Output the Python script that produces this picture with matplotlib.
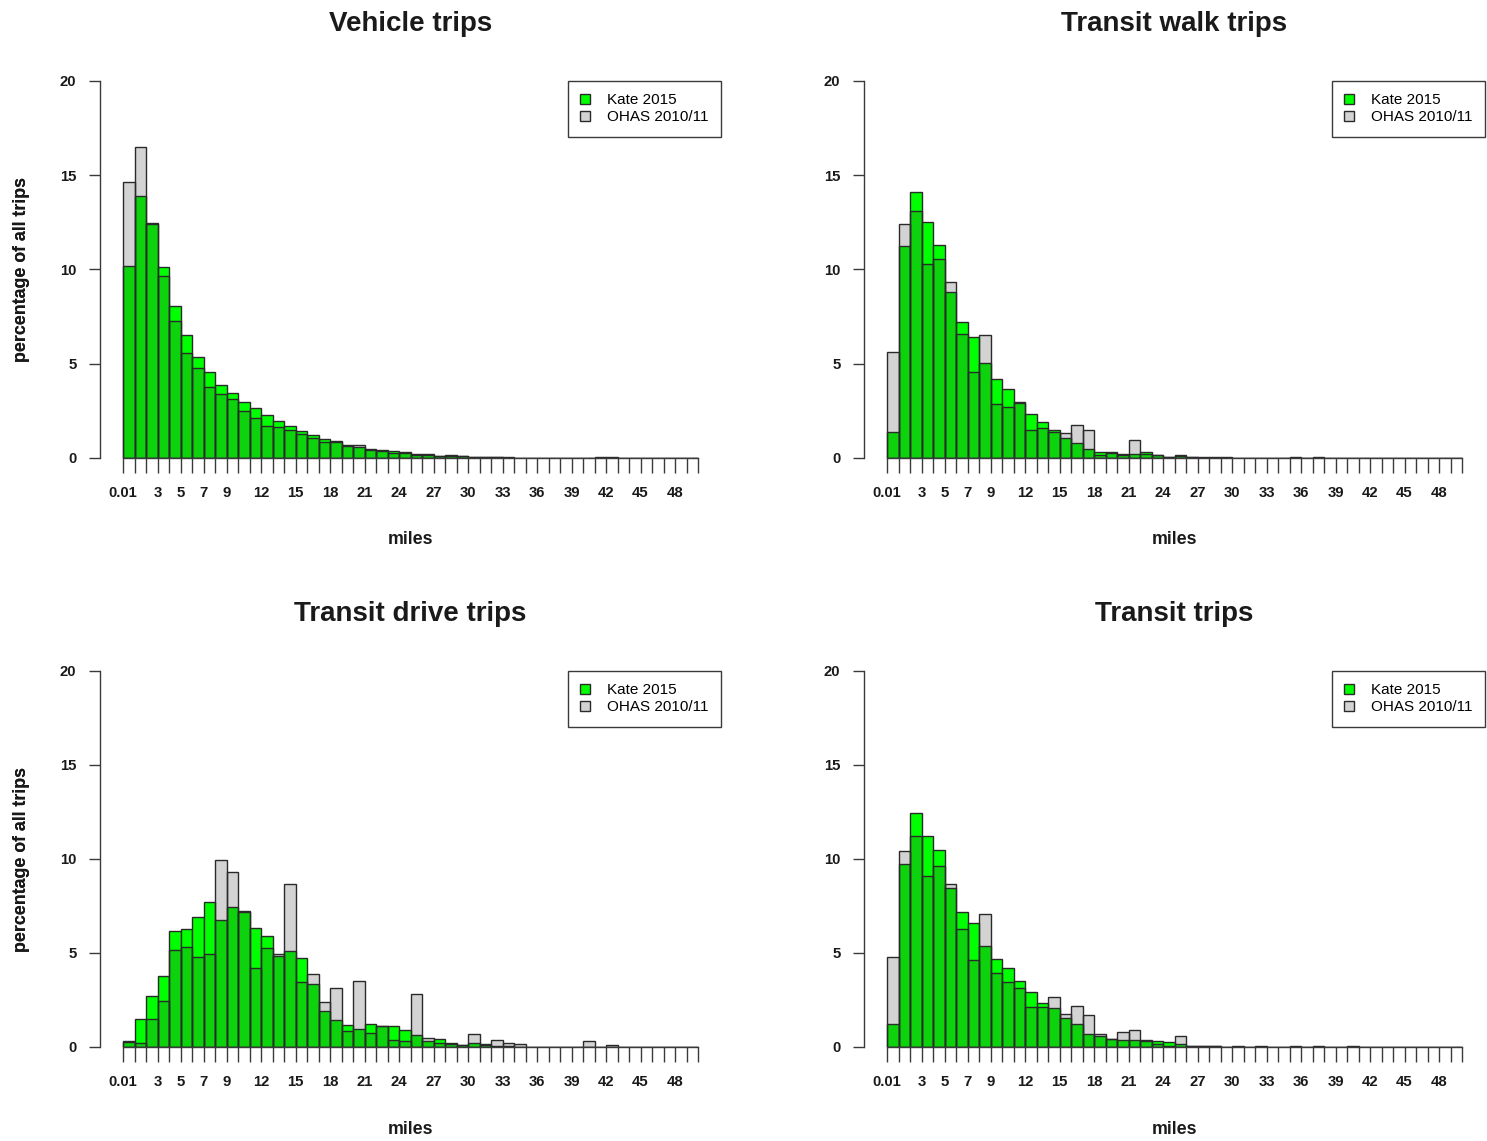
import numpy as np
import matplotlib
matplotlib.use("Agg")
import matplotlib.pyplot as plt

plt.rcParams["font.family"] = ["Liberation Sans", "DejaVu Sans"]

# Distance bins: breaks at 0.01, 1, 2, ..., 50 miles (50 bins)
breaks = ["0.01"] + [str(i) for i in range(1, 51)]
shown_labels = ["0.01", "3", "5", "7", "9", "12", "15", "18", "21", "24",
                "27", "30", "33", "36", "39", "42", "45", "48"]

series_names = ["Kate 2015", "OHAS 2010/11"]

# Percentage of all trips per distance bin
vehicle_kate = [10.19, 13.9, 12.45, 10.15, 8.08, 6.54, 5.38, 4.58, 3.89, 3.47,
                2.95, 2.63, 2.28, 1.96, 1.71, 1.44, 1.2, 1.01, 0.86, 0.67,
                0.57, 0.45, 0.42, 0.37, 0.34, 0.19, 0.19, 0.12, 0.1, 0.09,
                0.07, 0.07, 0.03, 0.03, 0.02, 0.02, 0.02, 0.02, 0.01, 0.0,
                0.01, 0.02, 0.02, 0.01, 0.01, 0.01, 0.01, 0.01, 0.01, 0.01]
vehicle_ohas = [14.63, 16.5, 12.4, 9.65, 7.25, 5.59, 4.77, 3.77, 3.38, 3.13,
                2.51, 2.10, 1.72, 1.63, 1.51, 1.28, 1.04, 0.87, 0.88, 0.64,
                0.71, 0.5, 0.37, 0.25, 0.25, 0.16, 0.16, 0.1, 0.16, 0.08,
                0.06, 0.05, 0.03, 0.02, 0.02, 0.02, 0.02, 0.02, 0.01, 0.0,
                0.02, 0.05, 0.05, 0.01, 0.01, 0.01, 0.01, 0.01, 0.01, 0.01]

walk_kate = [1.40, 11.25, 14.09, 12.54, 11.32, 8.82, 7.21, 6.44, 5.02, 4.17,
             3.68, 2.92, 2.35, 1.89, 1.49, 1.08, 0.81, 0.46, 0.34, 0.30,
             0.20, 0.19, 0.30, 0.14, 0.06, 0.10, 0.03, 0.02, 0.02, 0.02,
             0.01, 0.01, 0.01, 0.01, 0.01, 0.01, 0.01, 0.01, 0.0, 0.0,
             0.0, 0.0, 0.0, 0.0, 0.0, 0.0, 0.0, 0.0, 0.0, 0.0]
walk_ohas = [5.64, 12.43, 13.09, 10.31, 10.54, 9.32, 6.58, 4.56, 6.51, 2.86,
             2.69, 2.95, 1.49, 1.61, 1.40, 1.33, 1.75, 1.49, 0.17, 0.24,
             0.16, 0.95, 0.22, 0.16, 0.07, 0.16, 0.04, 0.03, 0.03, 0.03,
             0.02, 0.01, 0.01, 0.01, 0.01, 0.05, 0.01, 0.05, 0.0, 0.0,
             0.0, 0.0, 0.0, 0.0, 0.0, 0.0, 0.0, 0.0, 0.0, 0.0]

drive_kate = [0.30, 1.51, 2.70, 3.76, 6.19, 6.28, 6.93, 7.73, 6.74, 7.45,
              7.20, 6.33, 5.89, 4.85, 5.11, 4.75, 3.37, 1.92, 1.46, 1.15,
              0.98, 1.21, 1.10, 1.12, 0.92, 0.66, 0.30, 0.45, 0.21, 0.09,
              0.19, 0.14, 0.05, 0.03, 0.02, 0.0, 0.0, 0.0, 0.0, 0.0,
              0.0, 0.0, 0.0, 0.0, 0.0, 0.0, 0.0, 0.0, 0.0, 0.0]
drive_ohas = [0.25, 0.21, 1.51, 2.45, 5.18, 5.32, 4.77, 4.97, 9.97, 9.29,
              7.25, 4.19, 5.25, 4.97, 8.69, 3.48, 3.90, 2.39, 3.16, 0.85,
              3.49, 0.75, 1.12, 0.36, 0.32, 2.80, 0.48, 0.19, 0.16, 0.09,
              0.68, 0.10, 0.39, 0.21, 0.14, 0.0, 0.0, 0.0, 0.0, 0.0,
              0.32, 0.0, 0.12, 0.0, 0.0, 0.0, 0.0, 0.0, 0.0, 0.0]

transit_kate = [1.24, 9.75, 12.45, 11.22, 10.50, 8.48, 7.20, 6.58, 5.39, 4.70,
                4.22, 3.49, 2.95, 2.34, 2.06, 1.56, 1.21, 0.71, 0.57, 0.45,
                0.36, 0.36, 0.33, 0.30, 0.27, 0.18, 0.04, 0.04, 0.03, 0.01,
                0.02, 0.01, 0.01, 0.01, 0.01, 0.01, 0.01, 0.01, 0.0, 0.0,
                0.0, 0.0, 0.0, 0.0, 0.0, 0.0, 0.0, 0.0, 0.0, 0.0]
transit_ohas = [4.79, 10.43, 11.22, 9.08, 9.61, 8.65, 6.30, 4.63, 7.06, 3.96,
                3.46, 3.14, 2.13, 2.13, 2.66, 1.78, 2.16, 1.69, 0.68, 0.40,
                0.78, 0.92, 0.36, 0.18, 0.05, 0.59, 0.04, 0.04, 0.04, 0.02,
                0.04, 0.01, 0.04, 0.02, 0.01, 0.03, 0.01, 0.03, 0.0, 0.0,
                0.03, 0.0, 0.0, 0.0, 0.0, 0.0, 0.0, 0.0, 0.0, 0.0]

panels = [
    ("Vehicle trips", vehicle_kate, vehicle_ohas),
    ("Transit walk trips", walk_kate, walk_ohas),
    ("Transit drive trips", drive_kate, drive_ohas),
    ("Transit trips", transit_kate, transit_ohas),
]

W, H = 1487, 1141
fig = plt.figure(figsize=(W / 100, H / 100), dpi=100)

# axes boxes in pixels: (left, top, right, bottom)
boxes = [(100, 81, 721, 458), (864, 81, 1485, 458),
         (100, 671, 721, 1047), (864, 671, 1485, 1047)]

GREEN = "#00FF00"
GREY = (0.216, 0.216, 0.216, 0.22)
EDGE = "#2a2a2a"
AXC = "#3a3a3a"
TICK_FS = 10.7
LAB_FS = 12.8

for (title, kate, ohas), (l, t, r, b) in zip(panels, boxes):
    ax = fig.add_axes([l / W, 1 - b / H, (r - l) / W, (b - t) / H])
    x = np.arange(len(kate))
    h1 = ax.bar(x, kate, width=1.0, align="edge", facecolor=GREEN,
                edgecolor=EDGE, linewidth=1.0, label=series_names[0])
    h2 = ax.bar(x, ohas, width=1.0, align="edge", facecolor=GREY,
                edgecolor=EDGE, linewidth=1.0, label=series_names[1])

    ax.set_xlim(-2, 52)
    ax.set_ylim(0, 20)

    for s in ("top", "right"):
        ax.spines[s].set_visible(False)
    ax.spines["left"].set_color(AXC)
    ax.spines["left"].set_linewidth(1.0)
    ax.spines["bottom"].set_color(AXC)
    ax.spines["bottom"].set_linewidth(1.0)
    ax.spines["bottom"].set_bounds(0, len(kate))

    ticks = np.arange(len(breaks))
    ax.set_xticks(ticks)
    ax.set_xticklabels([lab if lab in shown_labels else "" for lab in breaks])
    ax.tick_params(axis="x", length=11, width=1.0, color=AXC,
                   pad=9, labelsize=TICK_FS)
    ax.set_yticks([0, 5, 10, 15, 20])
    ax.tick_params(axis="y", length=8, width=1.0, color=AXC,
                   pad=9, labelsize=TICK_FS)
    for lab in ax.get_xticklabels() + ax.get_yticklabels():
        lab.set_fontweight("bold")
        lab.set_color("#1a1a1a")

    ax.set_ylabel("percentage of all trips", fontsize=LAB_FS,
                  fontweight="bold", color="#1a1a1a")
    ax.yaxis.set_label_coords((22 - l) / (r - l), 0.5)
    ax.yaxis.label.set_va("center")
    ax.set_xlabel("miles", fontsize=LAB_FS, fontweight="bold",
                  color="#1a1a1a")
    ax.xaxis.set_label_coords(0.5, -82 / (b - t))
    ax.xaxis.label.set_va("center")

    ax.text(0.5, 1 + 57 / (b - t), title, transform=ax.transAxes,
            ha="center", va="center", fontsize=20, fontweight="bold",
            color="#1a1a1a")

    leg = ax.legend(handles=[h1, h2], loc="upper right", bbox_to_anchor=(1, 1),
                    borderaxespad=0, fancybox=False, framealpha=1,
                    edgecolor=AXC, fontsize=11, handlelength=0.7,
                    handleheight=0.7, handletextpad=1.1, borderpad=0.8,
                    labelspacing=0.2)
    leg.get_frame().set_linewidth(1.0)

fig.savefig("out.png", dpi=100)
